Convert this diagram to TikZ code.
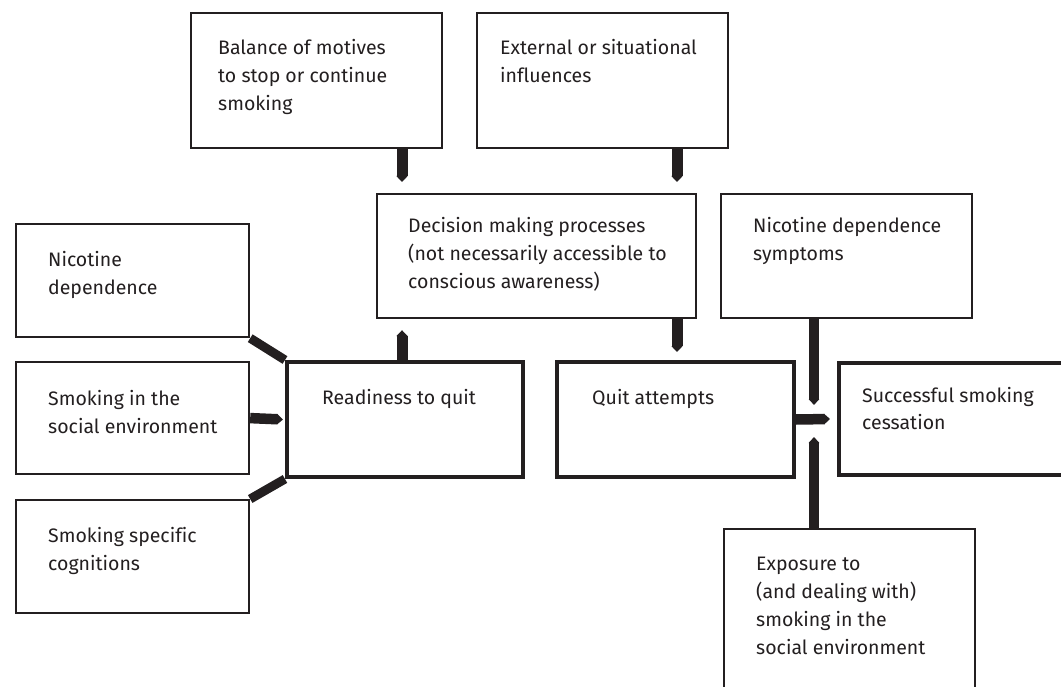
\documentclass[tikz,border=0pt]{standalone}
\usepackage{fontspec}
\setmainfont{Fira Sans}[Ligatures=NoCommon]
\usetikzlibrary{arrows.meta,calc}
\definecolor{ink}{HTML}{231F20}
\begin{document}
\begin{tikzpicture}[x=1pt,y=-1pt,
  box/.style={draw=ink,line width=2.2pt,inner sep=0pt,fill=white},
  tbox/.style={draw=ink,line width=4pt,inner sep=0pt,fill=white},
  txt/.style={inner sep=0pt,anchor=base west,text=ink,font=\fontsize{19.5}{28}\selectfont},
  conn/.style={draw=ink,line width=11pt,-{Triangle[width=0pt 1,length=6pt 0]}},
  bar/.style={draw=ink,line width=9pt}]
\useasboundingbox (0,0) rectangle (1061,687);
\newcommand\mybox[9]{%
  \node[#2,anchor=north west,minimum width={#5-#3},minimum height={#6-#4}] (#1) at (#3,#4) {};
  \node[txt] (#1t) at ($(#1.north west)+(#7,#8)$) {\parbox[t]{400pt}{\raggedright #9}};}
\mybox{bal}{box}{190}{12}{441}{147}{28}{43}{Balance of motives\\to stop or continue\\smoking}
\mybox{ext}{box}{476}{12}{727}{147}{24}{43}{External or situational\\influences}
\mybox{dec}{box}{376}{193}{695}{317}{32}{40}{Decision making processes\\(not necessarily accessible to\\conscious awareness)}
\mybox{nds}{box}{720}{193}{971}{317}{33}{40}{Nicotine dependence\\symptoms}
\mybox{nd}{box}{15}{223}{248}{336}{33}{44}{Nicotine\\dependence}
\mybox{soc}{box}{15}{361}{248}{473}{33}{44}{Smoking in the\\social environment}
\mybox{cog}{box}{15}{499}{248}{612}{33}{43}{Smoking specific\\cognitions}
\mybox{rdy}{tbox}{285}{360}{521}{475}{37}{44}{Readiness to quit}
\mybox{quit}{tbox}{555}{360}{792}{475}{37}{44}{Quit attempts}
\mybox{succ}{tbox}{837}{361}{1075}{473}{25}{41}{Successful smoking\\cessation}
\mybox{exp}{box}{723}{528}{974}{705}{33}{42}{Exposure to\\(and dealing with)\\smoking in the\\social environment}
% connectors
\draw[conn] ($(bal.south west)+(212,0)$) -- ($(dec.north west)+(26,-11)$);
\draw[conn] ($(ext.south west)+(201,0)$) -- ($(dec.north west)+(301,-11)$);
\draw[conn] ($(rdy.north west)+(117,0)$) -- ($(dec.south west)+(26,11)$);
\draw[conn] ($(dec.south west)+(301,0)$) -- ($(quit.north west)+(122,-8)$);
\draw[bar] (nd.south east) -- (rdy.north west);
\draw[bar] (cog.north east) -- (rdy.south west);
\draw[conn,line width=10.5pt] (soc.east) -- ($(rdy.west)+(-2,0)$);
\draw[conn,line width=10.5pt] (quit.east) -- ($(succ.west)+(-7,0)$);
\draw[conn,line width=10.5pt] ($(nds.south west)+(94,0)$) -- ($(succ.north west)+(-23,44)$);
\draw[conn,line width=10.5pt] ($(exp.north west)+(91,0)$) -- ($(succ.south west)+(-23,-40)$);
\end{tikzpicture}
\end{document}
